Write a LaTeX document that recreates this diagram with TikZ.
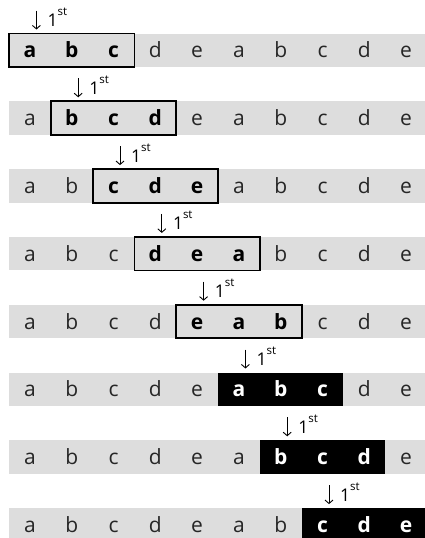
\documentclass[tikz,border=0pt]{standalone}
\usepackage{fontspec}
\usetikzlibrary{arrows.meta}
\setmainfont{Open Sans}
\definecolor{bandgray}{RGB}{221,221,221}
\begin{document}
\begin{tikzpicture}[x=1pt,y=-1pt,
  letter/.style={anchor=base, inner sep=0pt, text=black!85, font=\fontsize{21}{22}\selectfont},
  boxletter/.style={letter, text=black, font=\fontsize{21}{22}\selectfont\bfseries},
  invletter/.style={letter, text=white, font=\fontsize{21}{22}\selectfont\bfseries},
  framebox/.style={draw=black, line width=1.8pt, fill=bandgray},
  darkbox/.style={fill=black},
  downarrow/.style={line width=0.9pt, -{Straight Barb[length=3.5pt,width=8pt]}},
  steplabel/.style={anchor=base west, inner sep=0pt, font=\fontsize{17.5}{18}\selectfont}]
\useasboundingbox (0,0) rectangle (425,538);
\clip (0,0) rectangle (425,538);
\foreach \r in {0,...,7}{
  \pgfmathsetmacro\ytop{33.5+67.8*\r}
  \pgfmathsetmacro\xc{9+41.8*(\r+0.5)}
  \fill[bandgray] (9,\ytop) rectangle ++(425,33.5);
  \ifnum\r<5
    \draw[framebox] ({9+41.8*\r},\ytop) rectangle ++(125.4,33.5);
  \else
    \fill[darkbox] ({9+41.8*\r},\ytop) rectangle ++(125.4,33.5);
  \fi
  \coordinate (t\r) at ({\xc+6.5},{\ytop-23});
  \coordinate (h\r) at ({\xc+6.5},{\ytop-4});
  \draw[downarrow] (t\r) -- (h\r);
  \node[steplabel] (lab\r) at ({\xc+17.5},{\ytop-7})
    {1\raisebox{11pt}{\fontsize{11.5}{12}\selectfont st}};
  \foreach \k [count=\i from 0] in {a,b,c,d,e,a,b,c,d,e}{
    \pgfmathtruncatemacro\inbox{and(\i>=\r,\i<=\r+2)}
    \ifnum\inbox=1
      \ifnum\r<5 \def\sty{boxletter}\else\def\sty{invletter}\fi
    \else
      \def\sty{letter}
    \fi
    \node[\sty] (L\r-\i) at ({9+41.8*(\i+0.5)},{\ytop+24.3}) {\k};
  }
}
\end{tikzpicture}
\end{document}
